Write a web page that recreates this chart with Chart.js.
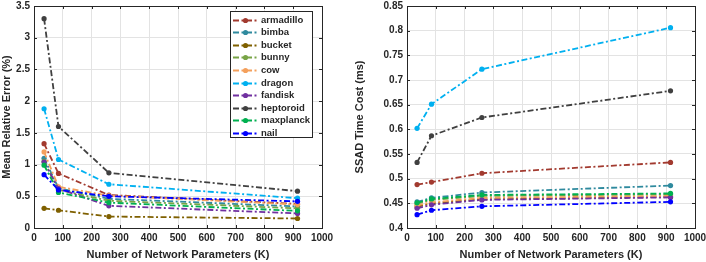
<!DOCTYPE html>
<html>
<head>
<meta charset="utf-8">
<script src="https://cdn.jsdelivr.net/npm/chart.js@4/dist/chart.umd.min.js"></script>
<style>
  body { margin: 0; background: #fff; }
  #wrap { position: relative; width: 706px; height: 262px; }
  canvas { position: absolute; top: 0; }
  #errChart { left: 0; }
  #timeChart { left: 353px; }
</style>
</head>
<body>
<div id="wrap">
  <canvas id="errChart" width="353" height="262"></canvas>
  <canvas id="timeChart" width="353" height="262"></canvas>
</div>
<script>
const xParams = [35, 85, 260, 915]
const models = ["armadillo","bimba","bucket","bunny","cow","dragon","fandisk","heptoroid","maxplanck","nail"]
const colors = ["#a23a2f","#2f8a9e","#7f6000","#78a446","#f4a05c","#00b0f0","#7030a0","#404040","#00b050","#0000ff"]

// mean relative error (%)
const mreArmadillo = [1.33, 0.86, 0.52, 0.38]
const mreBimba     = [1.10, 0.63, 0.46, 0.34]
const mreBucket    = [0.31, 0.28, 0.18, 0.15]
const mreBunny     = [1.05, 0.60, 0.43, 0.31]
const mreCow       = [1.20, 0.65, 0.51, 0.37]
const mreDragon    = [1.88, 1.08, 0.69, 0.47]
const mreFandisk   = [1.04, 0.62, 0.35, 0.23]
const mreHeptoroid = [3.30, 1.60, 0.87, 0.58]
const mreMaxplanck = [0.99, 0.56, 0.40, 0.27]
const mreNail      = [0.84, 0.60, 0.50, 0.42]

// SSAD time cost (ms)
const timeArmadillo = [0.488, 0.493, 0.511, 0.533]
const timeBimba     = [0.453, 0.461, 0.472, 0.486]
const timeBucket    = [0.443, 0.450, 0.458, 0.463]
const timeBunny     = [0.449, 0.457, 0.465, 0.468]
const timeCow       = [0.446, 0.452, 0.461, 0.465]
const timeDragon    = [0.602, 0.651, 0.722, 0.806]
const timeFandisk   = [0.440, 0.447, 0.457, 0.462]
const timeHeptoroid = [0.533, 0.587, 0.624, 0.678]
const timeMaxplanck = [0.451, 0.459, 0.467, 0.470]
const timeNail      = [0.427, 0.436, 0.444, 0.453]

const mreSeries = [mreArmadillo,mreBimba,mreBucket,mreBunny,mreCow,mreDragon,mreFandisk,mreHeptoroid,mreMaxplanck,mreNail]
const timeSeries = [timeArmadillo,timeBimba,timeBucket,timeBunny,timeCow,timeDragon,timeFandisk,timeHeptoroid,timeMaxplanck,timeNail]

const dashDot = [6, 2.5, 2, 2.5]
const axisColor = "#262626"
const fontFam = "'Liberation Sans', Arial, sans-serif"

const makeDatasets = function(series){
    return series.map((vals, i) => ({
        label: models[i],
        data: vals.map((v, k) => ({x: xParams[k], y: v})),
        borderColor: colors[i],
        backgroundColor: colors[i],
        borderWidth: 1.8,
        borderDash: dashDot,
        pointRadius: 2.6,
        pointBorderWidth: 0,
        order: series.length - i
    }))
}

// box around plot area + inward ticks on all four sides
const boxPlugin = {
    id: "box",
    afterDraw(chart){
        const ctx = chart.ctx
        const a = chart.chartArea
        ctx.save()
        ctx.strokeStyle = axisColor
        ctx.lineWidth = 1
        ctx.strokeRect(Math.round(a.left)+0.5, Math.round(a.top)+0.5, Math.round(a.right-a.left), Math.round(a.bottom-a.top))
        const xs = chart.scales.x, ys = chart.scales.y
        ctx.beginPath()
        xs.ticks.forEach(t => {
            const px = Math.round(xs.getPixelForValue(t.value)) + 0.5
            ctx.moveTo(px, a.bottom); ctx.lineTo(px, a.bottom - 3)
            ctx.moveTo(px, a.top); ctx.lineTo(px, a.top + 3)
        })
        ys.ticks.forEach(t => {
            const py = Math.round(ys.getPixelForValue(t.value)) + 0.5
            ctx.moveTo(a.left, py); ctx.lineTo(a.left + 3, py)
            ctx.moveTo(a.right, py); ctx.lineTo(a.right - 3, py)
        })
        ctx.stroke()
        ctx.restore()
    }
}

// legend drawn inside the plot (top right)
const insideLegend = {
    id: "insideLegend",
    afterDraw(chart){
        const ctx = chart.ctx
        const a = chart.chartArea
        const w = 82, h = 126
        const left = a.right - 10 - w, top = a.top + 5
        ctx.save()
        ctx.fillStyle = "#fff"
        ctx.fillRect(left, top, w, h)
        ctx.strokeStyle = axisColor
        ctx.lineWidth = 1
        ctx.strokeRect(Math.round(left)+0.5, Math.round(top)+0.5, w, h)
        ctx.font = "bold 9.5px " + fontFam
        ctx.textBaseline = "middle"
        chart.data.datasets.forEach((ds, i) => {
            const y = Math.round(top + 8.5 + i * 12.6) + 0.5
            ctx.strokeStyle = ds.borderColor
            ctx.lineWidth = 1.8
            ctx.setLineDash(dashDot)
            ctx.beginPath()
            ctx.moveTo(left + 3, y); ctx.lineTo(left + 28, y)
            ctx.stroke()
            ctx.setLineDash([])
            ctx.fillStyle = ds.borderColor
            ctx.beginPath()
            ctx.arc(left + 15.5, y, 2.6, 0, Math.PI * 2)
            ctx.fill()
            ctx.fillStyle = axisColor
            ctx.fillText(ds.label, left + 31, y)
        })
        ctx.restore()
    }
}

const makeChart = function(id, series, yMin, yMax, yStep, yTitle, yWidth, padRight, legend){
    const tickFont = {family: fontFam, size: 10, weight: "bold"}
    return new Chart(document.getElementById(id), {
        type: "line",
        data: {datasets: makeDatasets(series)},
        plugins: legend ? [boxPlugin, insideLegend] : [boxPlugin],
        options: {
            responsive: false,
            animation: false,
            layout: {padding: {top: 6, right: padRight, left: 0, bottom: 0}},
            plugins: {legend: {display: false}, tooltip: {enabled: false}},
            scales: {
                x: {
                    type: "linear", min: 0, max: 1000,
                    ticks: {stepSize: 100, autoSkip: false, color: axisColor, font: tickFont, maxRotation: 0, padding: 4,
                            callback: v => String(v)},
                    grid: {color: "#e3e3e3", drawTicks: false},
                    border: {display: false},
                    title: {display: true, text: "Number of Network Parameters (K)", color: axisColor,
                            font: {family: fontFam, size: 11, weight: "bold"}, padding: {top: 4, bottom: 0}},
                    afterFit(s){ s.height = 34; s.paddingLeft = 0; s.paddingRight = 0 }
                },
                y: {
                    min: yMin, max: yMax,
                    ticks: {stepSize: yStep, color: axisColor, font: tickFont, padding: 4,
                            callback: v => String(+v.toFixed(2))},
                    grid: {color: "#e3e3e3", drawTicks: false},
                    border: {display: false},
                    title: {display: true, text: yTitle, color: axisColor,
                            font: {family: fontFam, size: 11, weight: "bold"}, padding: {top: 0, bottom: 2}},
                    afterFit(s){ s.width = yWidth; s.paddingTop = 0; s.paddingBottom = 0 }
                }
            }
        }
    })
}

makeChart("errChart", mreSeries, 0, 3.5, 0.5, "Mean Relative Error (%)", 34, 31, true)
makeChart("timeChart", timeSeries, 0.4, 0.85, 0.05, "SSAD Time Cost (ms)", 54, 11, false)
</script>
</body>
</html>
